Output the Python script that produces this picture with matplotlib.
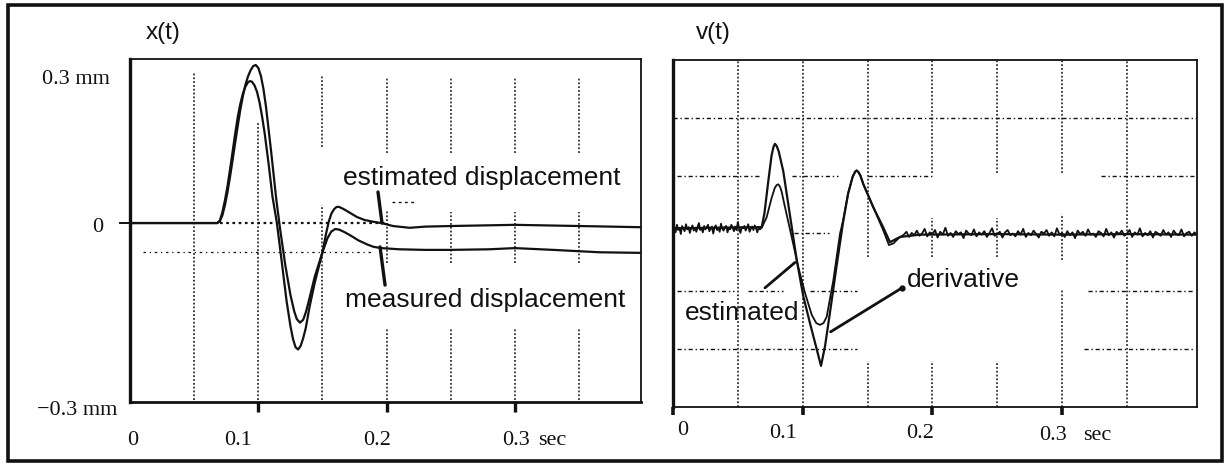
import numpy as np
import matplotlib
matplotlib.use("Agg")
import matplotlib.pyplot as plt
from matplotlib.patches import Rectangle

# ---------------- data ----------------
# left panel: displacement x(t) in mm, t in s
est_x_t = [0.0, 0.068, 0.070, 0.072, 0.074, 0.076, 0.078, 0.080, 0.082, 0.084, 0.086,
           0.088, 0.090, 0.092, 0.0935, 0.095, 0.097, 0.099, 0.101, 0.103, 0.105, 0.108,
           0.111, 0.1145, 0.118, 0.122, 0.125, 0.127, 0.129, 0.131, 0.133, 0.135, 0.137,
           0.140, 0.144, 0.150, 0.153, 0.155, 0.157, 0.159, 0.161, 0.163, 0.166, 0.170,
           0.177, 0.183, 0.190, 0.196, 0.205, 0.218, 0.230, 0.250, 0.275, 0.300, 0.325,
           0.350, 0.375, 0.398]
est_x = [0.0, 0.0, 0.004, 0.018, 0.038, 0.062, 0.09, 0.12, 0.15, 0.178, 0.2,
         0.217, 0.229, 0.236, 0.238, 0.237, 0.231, 0.22, 0.202, 0.178, 0.15, 0.1,
         0.045, 0.0, -0.06, -0.13, -0.172, -0.194, -0.208, -0.212, -0.206, -0.193, -0.176,
         -0.14, -0.10, -0.049, -0.016, 0.003, 0.016, 0.023, 0.027, 0.027, 0.024, 0.019,
         0.01, 0.005, 0.002, 0.0, -0.005, -0.008, -0.006, -0.005, -0.004, -0.003, -0.004,
         -0.005, -0.006, -0.007]

meas_x_t = [0.0, 0.068, 0.070, 0.072, 0.074, 0.076, 0.078, 0.080, 0.082, 0.084, 0.086,
            0.088, 0.090, 0.092, 0.094, 0.096, 0.098, 0.100, 0.102, 0.104, 0.106, 0.110,
            0.114, 0.117, 0.121, 0.125, 0.128, 0.130, 0.1325, 0.135, 0.137, 0.139, 0.144,
            0.150, 0.154, 0.157, 0.160, 0.163, 0.167, 0.172, 0.178, 0.185, 0.190, 0.196,
            0.210, 0.230, 0.250, 0.280, 0.300, 0.330, 0.366, 0.398]
meas_x = [0.0, 0.0, 0.003, 0.013, 0.03, 0.052, 0.078, 0.106, 0.135, 0.163, 0.19,
          0.213, 0.232, 0.246, 0.256, 0.263, 0.265, 0.26, 0.247, 0.225, 0.195, 0.12,
          0.04, -0.01, -0.07, -0.12, -0.148, -0.161, -0.167, -0.162, -0.15, -0.134, -0.09,
          -0.049, -0.025, -0.014, -0.010, -0.011, -0.015, -0.021, -0.029, -0.036, -0.040, -0.042,
          -0.044, -0.045, -0.045, -0.044, -0.042, -0.045, -0.049, -0.050]

# right panel: velocity v(t) (grid units), t in s
est_v_t = [0.0, 0.0684, 0.0705, 0.0735, 0.076, 0.0775, 0.0786, 0.080, 0.0815, 0.085, 0.090,
           0.0954, 0.1005, 0.1056, 0.1108, 0.1141, 0.1172, 0.121, 0.126, 0.1313, 0.135,
           0.1385, 0.1405, 0.1416, 0.143, 0.1445, 0.1468, 0.1545, 0.162, 0.1673, 0.175, 0.19,
           0.25, 0.30, 0.35, 0.404]
est_v = [0.09, 0.11, 0.35, 0.91, 1.35, 1.50, 1.55, 1.51, 1.42, 1.08, 0.34,
         -0.46, -1.09, -1.55, -2.0, -2.29, -1.95, -1.37, -0.58, 0.22, 0.69,
         0.98, 1.07, 1.09, 1.06, 1.0, 0.85, 0.45, 0.11, -0.15, -0.06, -0.02,
         -0.01, -0.02, -0.01, -0.02]

der_main_t = [0.0684, 0.0722, 0.0761, 0.0785, 0.080, 0.0812, 0.0825, 0.0838, 0.0864, 0.0915,
              0.0966, 0.1018, 0.107, 0.1105, 0.1133, 0.116, 0.1185, 0.1236, 0.1288, 0.1313,
              0.135, 0.1385, 0.1405, 0.1416, 0.143, 0.1445, 0.1468, 0.1545, 0.162, 0.1665,
              0.170, 0.174]
der_main_v = [0.10, 0.28, 0.62, 0.79, 0.84, 0.85, 0.81, 0.72, 0.45, -0.06,
              -0.58, -1.03, -1.41, -1.55, -1.58, -1.55, -1.44, -0.81, 0.0, 0.24,
              0.69, 0.98, 1.07, 1.09, 1.06, 1.0, 0.85, 0.45, 0.06, -0.20,
              -0.17, -0.08]

# noisy baseline of the derivative before the pulse (1 ms samples, 0 .. 0.068 s)
der_pre_v = [0.05, 0.12, 0.02, 0.15, 0.06, 0.10, -0.01, 0.13, 0.08, 0.04, 0.16, 0.07,
             0.11, 0.01, 0.09, 0.14, 0.05, 0.10, 0.03, 0.12, 0.18, 0.06, 0.09, 0.02,
             0.13, 0.07, 0.11, 0.15, 0.04, 0.08, 0.12, 0.00, 0.10, 0.14, 0.06, 0.09,
             0.03, 0.17, 0.08, 0.05, 0.11, 0.13, 0.02, 0.09, 0.07, 0.15, 0.10, 0.04,
             0.12, 0.06, 0.20, 0.08, 0.01, 0.11, 0.09, 0.13, 0.05, 0.10, 0.16, 0.03,
             0.08, 0.12, 0.06, 0.14, 0.09, 0.02, 0.11, 0.07, 0.10]
# noisy baseline of the derivative after the pulse (2 ms samples, 0.176 .. 0.404 s)
der_post_v = [-0.05, -0.02, 0.03, -0.06, 0.01, -0.03, 0.05, -0.04, 0.00, 0.08,
              -0.05, 0.02, -0.01, 0.06, -0.07, 0.03, -0.02, 0.10, -0.04, 0.01,
              -0.06, 0.04, -0.01, 0.02, -0.08, 0.05, 0.00, -0.03, 0.07, -0.05,
              0.02, -0.02, 0.04, -0.06, 0.01, 0.09, -0.04, -0.01, 0.03, -0.07,
              0.02, 0.06, -0.03, 0.00, -0.05, 0.04, -0.02, 0.08, -0.06, 0.01,
              -0.03, 0.05, -0.01, -0.07, 0.03, 0.00, 0.06, -0.04, 0.02, -0.05,
              0.09, -0.02, 0.01, -0.06, 0.04, -0.03, 0.02, -0.08, 0.05, -0.01,
              0.03, -0.04, 0.07, -0.02, 0.00, -0.06, 0.04, 0.01, -0.05, 0.08,
              -0.03, 0.02, -0.07, 0.03, -0.01, 0.05, -0.04, 0.00, 0.06, -0.06,
              0.02, -0.02, 0.09, -0.05, 0.01, -0.03, 0.04, -0.07, 0.03, 0.00,
              -0.04, 0.06, -0.02, 0.02, -0.06, 0.05, -0.01, -0.03, 0.07, -0.05,
              0.01, 0.03, -0.04, 0.02, -0.02]

x_ticks = [0.1, 0.2, 0.3]
x_tick_labels = ["0.1", "0.2", "0.3"]

# ---------------- layout ----------------
W, H = 1227, 469
fig = plt.figure(figsize=(W / 100, H / 100), dpi=100)
fig.patch.set_facecolor("white")

def fx(px):
    return px / W

def fy(py):
    return 1 - py / H

SANS = ["Liberation Sans", "DejaVu Sans"]
SERIF = ["Liberation Serif", "DejaVu Serif"]
INK = "#111111"
GRID_LS = (0, (1.2, 1.3))

axL = fig.add_axes([fx(130), fy(402), fx(641) - fx(130), fy(59) - fy(402)])
axR = fig.add_axes([fx(673), fy(407), fx(1197) - fx(673), fy(60) - fy(407)])

for ax in (axL, axR):
    for s in ax.spines.values():
        s.set_color(INK)
        s.set_linewidth(1.3)
    ax.spines["left"].set_linewidth(2.4)
    ax.set_facecolor("white")

# ---- left panel ----
axL.set_xlim(0, 0.3983)
axL.set_ylim(-0.3, 0.275)
axL.spines["bottom"].set_linewidth(2.0)

vseg_L = [
    (0.05, [(-0.297, 0.252)]),
    (0.10, [(-0.297, 0.17)]),
    (0.15, [(-0.297, 0.03), (0.127, 0.248)]),
    (0.20, [(-0.296, -0.176), (-0.067, 0.022), (0.117, 0.243)]),
    (0.25, [(-0.296, -0.176), (-0.067, 0.018), (0.117, 0.243)]),
    (0.30, [(-0.296, -0.176), (-0.067, 0.018), (0.117, 0.243)]),
    (0.35, [(-0.296, -0.176), (-0.067, 0.018), (0.117, 0.243)]),
]
for t, segs in vseg_L:
    for lo, hi in segs:
        axL.plot([t, t], [lo, hi], color=INK, lw=1.1, ls=GRID_LS, zorder=1)
axL.plot([0.07, 0.2], [0.0, 0.0], color=INK, lw=1.6, ls=(0, (1.2, 1.6)), zorder=1)
axL.plot([0.01, 0.19], [-0.0486, -0.0486], color=INK, lw=0.9, ls=(0, (2, 3, 1, 3)), zorder=1)
axL.plot([0.204, 0.221], [0.035, 0.035], color=INK, lw=1.0, ls=(0, (2, 2.5)), zorder=1)

axL.plot(est_x_t, est_x, color=INK, lw=1.6, zorder=3, solid_joinstyle="round")
axL.plot(meas_x_t, meas_x, color=INK, lw=1.6, zorder=3, solid_joinstyle="round")

axL.set_xticks(x_ticks)
axL.set_xticklabels([])
axL.tick_params(axis="x", direction="out", length=7, width=2.4, color=INK)
axL.set_yticks([0])
axL.set_yticklabels([])
axL.tick_params(axis="y", direction="out", length=8, width=1.4, color=INK)

# ---- right panel ----
axR.set_xlim(0, 0.404)
axR.set_ylim(-3, 3)

vseg_R = [
    (0.05, [(-3, 3)]),
    (0.10, [(-3, 3)]),
    (0.15, [(-3, -2.2), (-0.4, 3)]),
    (0.20, [(-3, -2.2), (-0.41, 0.26), (1.05, 3)]),
    (0.25, [(-3, -2.2), (-0.41, 0.26), (1.05, 3)]),
    (0.30, [(-3, -0.98), (-0.46, 0.34), (1.05, 3)]),
    (0.35, [(-3, 3)]),
]
for t, segs in vseg_R:
    for lo, hi in segs:
        axR.plot([t, t], [lo, hi], color=INK, lw=1.1, ls=GRID_LS, zorder=1)

hseg_R = [
    (2.0, [(0.0, 0.404)]),
    (1.0, [(0.003, 0.068), (0.092, 0.127), (0.15, 0.2), (0.33, 0.402)]),
    (0.0, [(0.093, 0.12)]),
    (-1.0, [(0.003, 0.047), (0.058, 0.085), (0.106, 0.142), (0.32, 0.402)]),
    (-2.0, [(0.003, 0.142), (0.317, 0.402)]),
]
for v, segs in hseg_R:
    for lo, hi in segs:
        axR.plot([lo, hi], [v, v], color=INK, lw=1.0, ls=(0, (3, 2, 1, 2)), zorder=1)

t_pre = np.linspace(0.0, 0.068, len(der_pre_v))
t_post = np.linspace(0.176, 0.404, len(der_post_v))
der_t = list(t_pre) + der_main_t + list(t_post)
der_v = der_pre_v + der_main_v + der_post_v

axR.plot(est_v_t, est_v, color=INK, lw=1.6, zorder=3, solid_joinstyle="round")
axR.plot(der_t, der_v, color=INK, lw=1.3, zorder=4, solid_joinstyle="round")

axR.set_xticks([0.0] + x_ticks)
axR.set_xticklabels([])
axR.tick_params(axis="x", direction="out", length=6, width=2.6, color=INK)
axR.set_yticks([])

# ---------------- texts ----------------
tick_fs = 16
lab_fs = 19

# left panel tick labels
fig.text(fx(133), fy(440), "0", family=SERIF, fontsize=tick_fs, ha="center", va="center", color=INK)
fig.text(fx(238), fy(440), x_tick_labels[0], family=SERIF, fontsize=tick_fs, ha="center", va="center", color=INK)
fig.text(fx(377), fy(440), x_tick_labels[1], family=SERIF, fontsize=tick_fs, ha="center", va="center", color=INK)
fig.text(fx(516), fy(440), x_tick_labels[2], family=SERIF, fontsize=tick_fs, ha="center", va="center", color=INK)
fig.text(fx(538), fy(440), "sec", family=SERIF, fontsize=tick_fs, ha="left", va="center", color=INK)
fig.text(fx(110), fy(80), "0.3 mm", family=SERIF, fontsize=tick_fs, ha="right", va="center", color=INK)
fig.text(fx(103), fy(227), "0", family=SERIF, fontsize=tick_fs, ha="right", va="center", color=INK)
fig.text(fx(117), fy(410), "\u22120.3 mm", family=SERIF, fontsize=tick_fs, ha="right", va="center", color=INK)

# right panel tick labels
fig.text(fx(683), fy(430), "0", family=SERIF, fontsize=tick_fs, ha="center", va="center", color=INK)
fig.text(fx(783), fy(433), x_tick_labels[0], family=SERIF, fontsize=tick_fs, ha="center", va="center", color=INK)
fig.text(fx(920), fy(433), x_tick_labels[1], family=SERIF, fontsize=tick_fs, ha="center", va="center", color=INK)
fig.text(fx(1053), fy(435), x_tick_labels[2], family=SERIF, fontsize=tick_fs, ha="center", va="center", color=INK)
fig.text(fx(1083), fy(435), "sec", family=SERIF, fontsize=tick_fs, ha="left", va="center", color=INK)

# axis titles
fig.text(fx(163), fy(33), "x(t)", family=SANS, fontsize=17.5, ha="center", va="center", color=INK)
fig.text(fx(713), fy(33), "v(t)", family=SANS, fontsize=17.5, ha="center", va="center", color=INK)

# annotations
fig.text(fx(343), fy(178), "estimated displacement", family=SANS, fontsize=lab_fs, ha="left", va="center", color=INK)
fig.text(fx(345), fy(300), "measured displacement", family=SANS, fontsize=lab_fs, ha="left", va="center", color=INK)
axL.annotate("", xy=(0.1964, 0.0), xytext=(0.1933, 0.052),
             arrowprops=dict(arrowstyle="-", lw=2.4, color=INK, shrinkA=0, shrinkB=0))
axL.annotate("", xy=(0.1949, -0.040), xytext=(0.1988, -0.104),
             arrowprops=dict(arrowstyle="-", lw=2.4, color=INK, shrinkA=0, shrinkB=0))

fig.text(fx(685), fy(313), "estimated", family=SANS, fontsize=lab_fs, ha="left", va="center", color=INK)
fig.text(fx(907), fy(280), "derivative", family=SANS, fontsize=lab_fs, ha="left", va="center", color=INK)
axR.annotate("", xy=(0.0941, -0.50), xytext=(0.0709, -0.94),
             arrowprops=dict(arrowstyle="-", lw=2.0, color=INK, shrinkA=0, shrinkB=0))
axR.annotate("", xy=(0.1215, -1.70), xytext=(0.1766, -0.94),
             arrowprops=dict(arrowstyle="-", lw=2.0, color=INK, shrinkA=0, shrinkB=0))
axR.plot([0.1766], [-0.94], "o", color=INK, ms=3.5, zorder=5)

# outer frame
fig.patches.append(Rectangle((fx(8), fy(461)), fx(1222) - fx(8), fy(5) - fy(461),
                             transform=fig.transFigure, fill=False, lw=2.6,
                             edgecolor=INK, zorder=10))

fig.savefig("out.png", dpi=100, facecolor="white")
